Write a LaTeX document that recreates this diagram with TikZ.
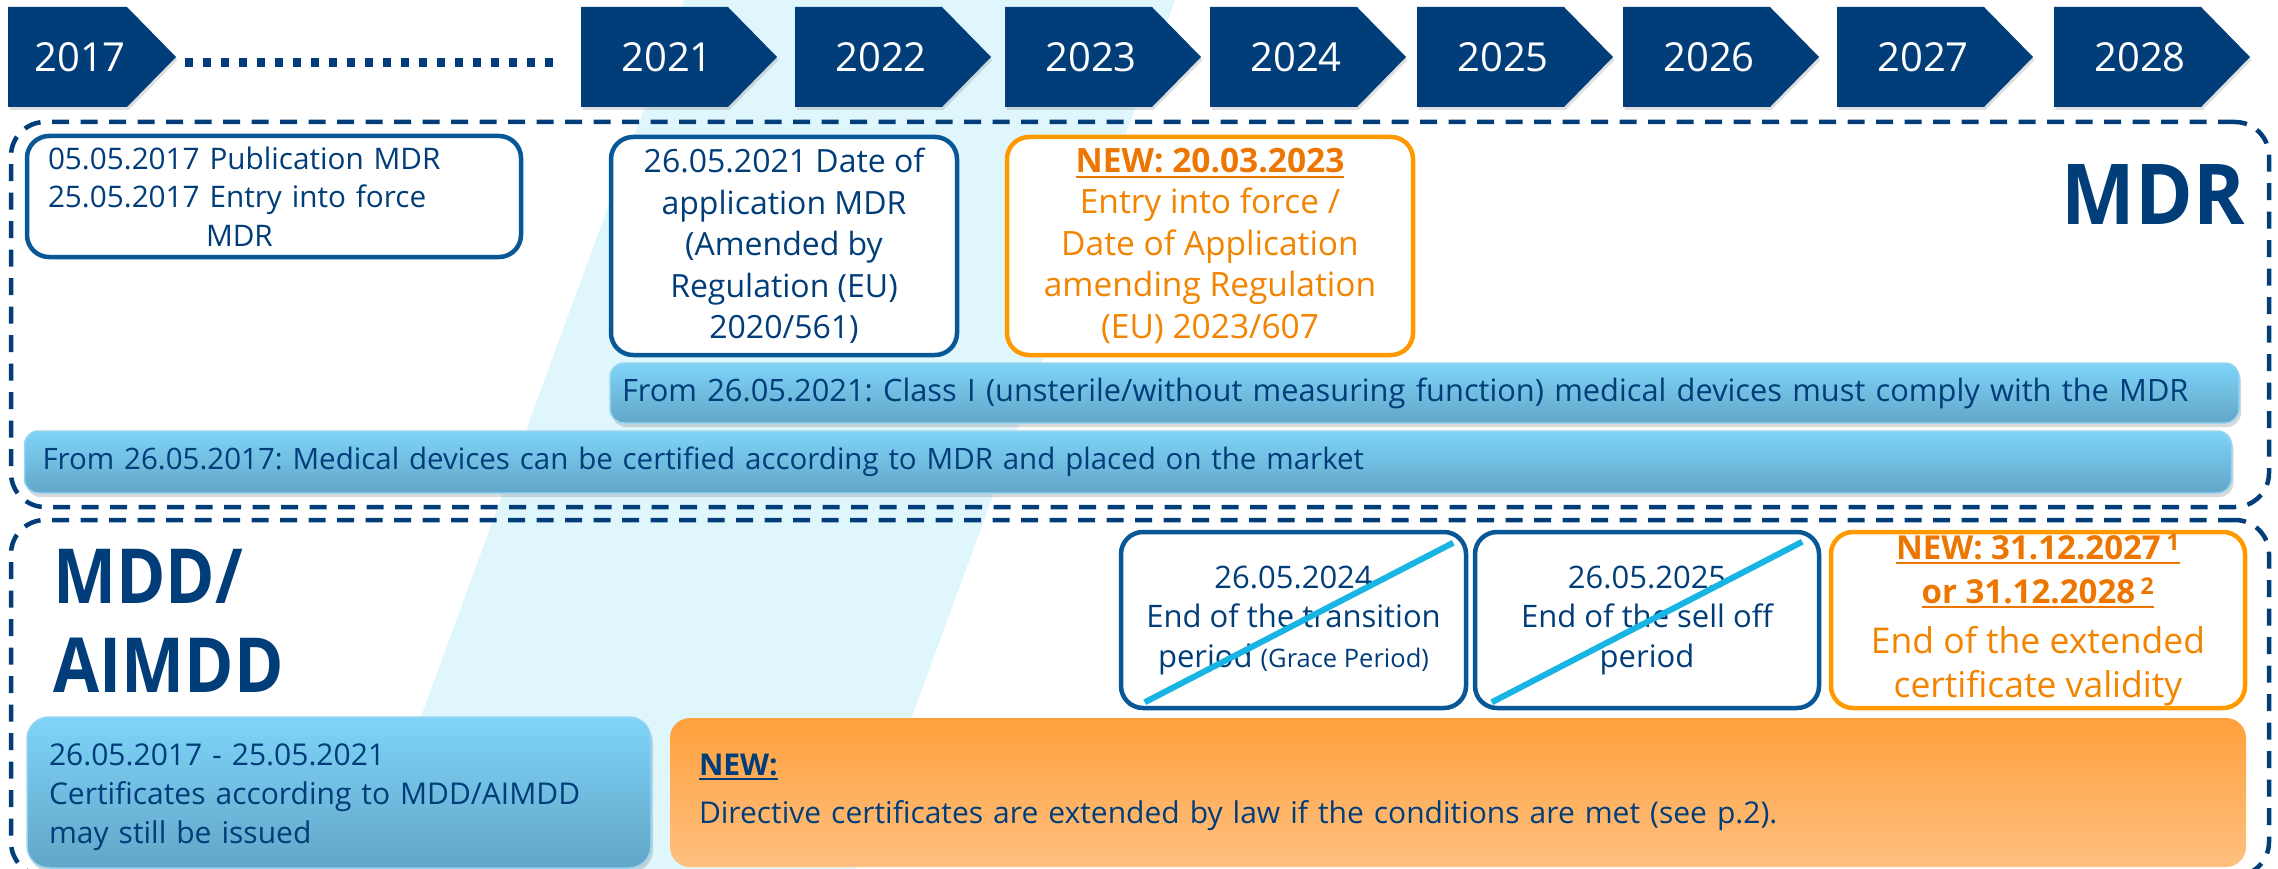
\documentclass[tikz,border=0pt]{standalone}
\usepackage{fontspec}
\setmainfont{Open Sans}
\usetikzlibrary{shadows,calc}
\frenchspacing

\definecolor{navy}{RGB}{0,61,121}
\definecolor{boxblue}{RGB}{8,88,152}
\definecolor{orangeline}{RGB}{255,153,0}
\definecolor{orangetext}{RGB}{242,132,0}
\definecolor{orangebold}{RGB}{236,118,0}
\definecolor{bandcyan}{RGB}{223,246,253}
\definecolor{barTop}{RGB}{126,212,248}
\definecolor{barBot}{RGB}{98,166,200}
\definecolor{barEdge}{RGB}{150,212,240}
\definecolor{orTop}{RGB}{255,160,60}
\definecolor{orBot}{RGB}{255,192,128}
\definecolor{strike}{RGB}{24,180,228}

% underline drawn as a rule scaled to the current font size
\newsavebox\ulbox
\newcommand\ulx[1]{\sbox\ulbox{#1}\rlap{\rule[-0.15em]{\wd\ulbox}{0.06em}}\usebox\ulbox}

\begin{document}
\begin{tikzpicture}[x=1pt,y=-1pt,
  every node/.style={inner sep=0pt},
  chevron/.style={fill=navy, drop shadow={opacity=0.25, shadow xshift=1.5pt, shadow yshift=-3pt}},
  yearlabel/.style={text=white, font=\fontsize{40}{48}\selectfont},
  heading/.style={text=navy, font=\fontsize{#1}{#1}\selectfont\bfseries},
  region/.style={draw=navy, line width=4.5pt, dash pattern=on 17pt off 11.5pt, rounded corners=34pt},
  datebox/.style={draw=boxblue, fill=white, line width=4.5pt, rounded corners=22pt, text=navy, align=center},
  newbox/.style={draw=orangeline, fill=white, line width=4.5pt, rounded corners=22pt, text=orangetext, align=center},
  bluebar/.style={top color=barTop, bottom color=barBot, draw=barEdge, line width=1.5pt, rounded corners=14pt, text=navy, align=left,
    drop shadow={opacity=0.3, shadow xshift=2pt, shadow yshift=-4pt}},
  orangebar/.style={top color=orTop, bottom color=orBot, rounded corners=20pt, text=navy, align=left},
  strikeout/.style={draw=strike, line width=6pt},
]
\useasboundingbox (0,0) rectangle (2278,869);

% light diagonal band in the background
\fill[bandcyan] (684,0) -- (1175,0) -- (856,869) -- (365,869) -- cycle;

% year arrows
\fill[chevron] (8,7) -- (127,7) -- (176,57) -- (127,107) -- (8,107) -- cycle;
\node[yearlabel] (y2017) at (80,57) {2017};
\foreach \yr/\L in {2021/581,2022/795,2023/1005,2024/1210,2025/1417,2026/1623,2027/1837,2028/2054} {
  \fill[chevron] (\L,7) -- ++(147,0) -- ++(49,50) -- ++(-49,50) -- ++(-147,0) -- cycle;
  \node[yearlabel] (y\yr) at (\L+86,57) {\yr};
}
\coordinate (gapA) at (185,63);
\coordinate (gapB) at (553,63);
\draw[navy, line width=9pt, dash pattern=on 8pt off 10pt] (gapA) -- (gapB);

% the two regions
\node[region, minimum width=2258pt, minimum height=385pt] (mdr) at (1140,314.5) {};
\node[region, minimum width=2258pt, minimum height=356pt] (mdd) at (1140,698) {};

\node[anchor=base east, heading=84] (mdrlabel) at (2245,225) {\scalebox{0.93}[1]{MDR}};
\node[anchor=base west, heading=76] (mddA) at (53,603) {\scalebox{0.88}[1]{MDD/}};
\node[anchor=base west, heading=76] (mddB) at (53,692) {\scalebox{0.88}[1]{AIMDD}};

% MDR milestones
\node[datebox, align=left, minimum width=494pt, minimum height=121pt, text width=452pt, font=\fontsize{29.7}{38.5}\selectfont] (pubA) at (274,196.5)
  {05.05.2017 Publication MDR\\25.05.2017 Entry into force\\\hspace*{158pt}MDR};
\node[datebox, minimum width=346pt, minimum height=218pt, font=\fontsize{32}{41.5}\selectfont] (appB) at (784,246)
  {26.05.2021 Date of\\application MDR\\(Amended by\\Regulation (EU)\\2020/561)};
\node[newbox, minimum width=406pt, minimum height=218pt, font=\fontsize{33.5}{41.5}\selectfont] (amendC) at (1210,246)
  {{\color{orangebold}\bfseries\ulx{NEW: 20.03.2023}}\\Entry into force /\\Date of Application\\amending Regulation\\(EU) 2023/607};

\node[bluebar, minimum width=1629pt, minimum height=60pt, text width=1605pt, font=\fontsize{30.8}{36}\selectfont] (classI) at (1424.5,393)
  {From 26.05.2021: Class I (unsterile/without measuring function) medical devices must comply with the MDR};
\node[bluebar, minimum width=2207pt, minimum height=62pt, text width=2171pt, font=\fontsize{29.5}{36}\selectfont] (certMDR) at (1128,462)
  {From 26.05.2017: Medical devices can be certified according to MDR and placed on the market};

% MDD/AIMDD milestones
\node[datebox, minimum width=345pt, minimum height=176pt, font=\fontsize{31}{39.5}\selectfont] (grace) at (1293.5,620)
  {26.05.2024\\End of the transition\\period {\fontsize{25.5}{39.5}\selectfont(Grace Period)}};
\node[datebox, minimum width=344pt, minimum height=176pt, font=\fontsize{31}{39.5}\selectfont] (selloff) at (1647,620)
  {26.05.2025\\End of the sell off\\period};
\draw[strikeout] ($(grace.south west)+(26,-8)$) -- ($(grace.north east)+(-15,13)$);
\draw[strikeout] ($(selloff.south west)+(19,-8)$) -- ($(selloff.north east)+(-19,12)$);

\node[newbox, minimum width=414pt, minimum height=176pt, font=\fontsize{35.5}{44}\selectfont] (extend) at (2038,620)
  {{\fontsize{33}{44}\selectfont\color{orangebold}\bfseries\ulx{NEW: 31.12.2027\,\textsuperscript{1}}}\\
   {\fontsize{33}{44}\selectfont\color{orangebold}\bfseries\ulx{or 31.12.2028\,\textsuperscript{2}}}\\[6pt]
   End of the extended\\certificate validity};

\node[bluebar, rounded corners=22pt, minimum width=624pt, minimum height=151pt, text width=580pt, font=\fontsize{30}{39}\selectfont] (mddcert) at (339,792.5)
  {\rule{0pt}{32pt}26.05.2017 - 25.05.2021\\Certificates according to MDD/AIMDD\\may still be issued};
\node[orangebar, minimum width=1576pt, minimum height=149pt, text width=1518pt, font=\fontsize{30}{48}\selectfont] (bylaw) at (1458,792.5)
  {\textbf{\ulx{NEW:}}\\Directive certificates are extended by law if the conditions are met (see p.2).};
\end{tikzpicture}
\end{document}
